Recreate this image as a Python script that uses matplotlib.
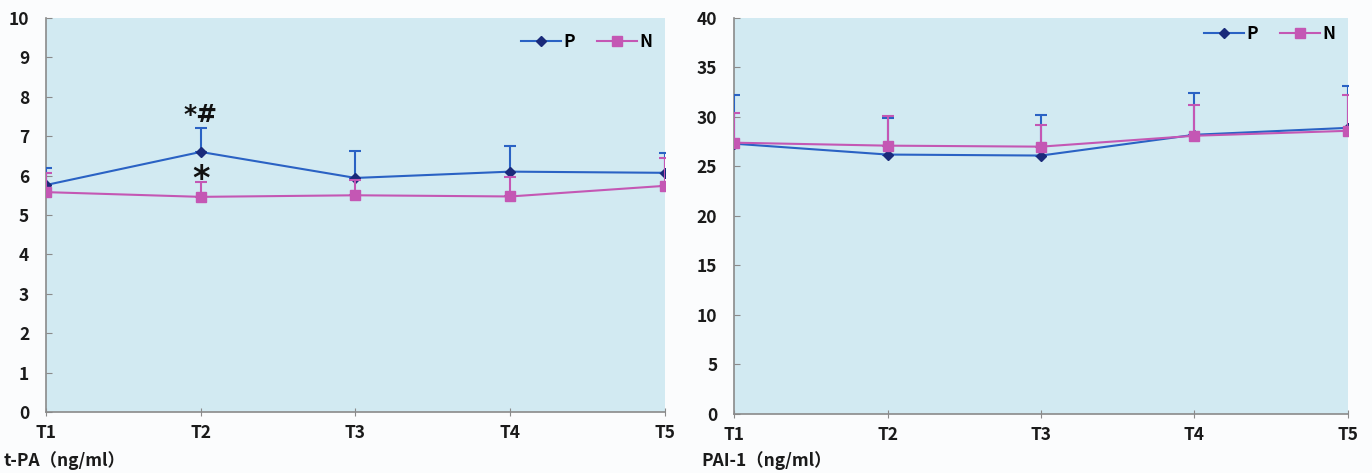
import matplotlib
matplotlib.use("Agg")
import matplotlib.pyplot as plt
from matplotlib.lines import Line2D
import numpy as np

plt.rcParams['font.family'] = ['Noto Sans CJK SC', 'DejaVu Sans']

categories = ["T1", "T2", "T3", "T4", "T5"]

# t-PA (ng/ml)
tpa_P = [5.76, 6.60, 5.94, 6.10, 6.07]
tpa_P_err = [0.44, 0.60, 0.69, 0.66, 0.51]
tpa_N = [5.58, 5.46, 5.50, 5.47, 5.74]
tpa_N_err = [0.48, 0.37, 0.40, 0.50, 0.70]

# PAI-1 (ng/ml)
pai_P = [27.3, 26.2, 26.1, 28.2, 28.9]
pai_P_err = [4.9, 3.7, 4.1, 4.2, 4.2]
pai_N = [27.4, 27.1, 27.0, 28.1, 28.6]
pai_N_err = [3.0, 3.0, 2.2, 3.1, 3.6]

left_ylabel = "t-PA（ng/ml）"
right_ylabel = "PAI-1（ng/ml）"
series_names = ["P", "N"]

BG = "#d2eaf2"
P_LINE = "#2a62c4"
P_MARK = "#1a2a7a"
N_COL = "#c457b4"
SPINE = "#8a8a8a"

fig = plt.figure(figsize=(13.72, 4.73), dpi=100, facecolor="#fbfcfd")
axL = fig.add_axes([0.0335, 0.129, 0.4512, 0.833])
axR = fig.add_axes([0.535, 0.125, 0.4475, 0.837])


def draw(ax, P, Perr, N, Nerr, ymax, ystep, xlabel, xlabel_x, legend_y):
    x = np.arange(len(categories))
    ax.set_facecolor(BG)
    ax.errorbar(x, P, yerr=[np.zeros(len(P)), Perr], color=P_LINE, lw=1.5,
                marker="D", ms=5, mfc=P_MARK, mec=P_MARK, ecolor=P_LINE,
                elinewidth=1.5, capsize=4, capthick=1.5, zorder=3)
    ax.errorbar(x, N, yerr=[np.zeros(len(N)), Nerr], color=N_COL, lw=1.5,
                marker="s", ms=7, mfc=N_COL, mec=N_COL, ecolor=N_COL,
                elinewidth=1.5, capsize=4, capthick=1.5, zorder=4)
    ax.set_xlim(0, len(categories) - 1)
    ax.set_ylim(0, ymax)
    ax.set_yticks(np.arange(0, ymax + ystep / 2, ystep))
    ax.set_xticks(x)
    ax.set_xticklabels(categories)
    for s in ["top", "right"]:
        ax.spines[s].set_visible(False)
    for s in ["left", "bottom"]:
        ax.spines[s].set_color(SPINE)
        ax.spines[s].set_linewidth(1.2)
    ax.tick_params(axis="y", direction="in", length=4, color=SPINE, labelsize=12.5, pad=12)
    ax.tick_params(axis="x", direction="inout", length=6, color=SPINE, labelsize=12.5, pad=6)
    for lab in ax.get_xticklabels() + ax.get_yticklabels():
        lab.set_fontweight("bold")
        lab.set_color("#1a1a1a")
    fig.text(xlabel_x, 0.026, xlabel, fontsize=12.5, fontweight="bold",
             ha="left", va="center", color="#1a1a1a")
    handles = [
        Line2D([], [], color=P_LINE, lw=1.5, marker="D", ms=5, mfc=P_MARK, mec=P_MARK),
        Line2D([], [], color=N_COL, lw=1.5, marker="s", ms=7, mfc=N_COL, mec=N_COL),
    ]
    leg = ax.legend(handles, series_names, loc="upper right", bbox_to_anchor=(1.0, legend_y),
                    ncol=2, frameon=False, fontsize=12.5, handlelength=2.3,
                    columnspacing=1.3, handletextpad=0.15, borderaxespad=0.3)
    for t in leg.get_texts():
        t.set_fontweight("bold")
    return x


xL = draw(axL, tpa_P, tpa_P_err, tpa_N, tpa_N_err, 10, 1, left_ylabel, 0.003, 0.992)
draw(axR, pai_P, pai_P_err, pai_N, pai_N_err, 40, 5, right_ylabel, 0.511, 1.012)

# significance marks at T2
axL.text(xL[1], tpa_P[1] + tpa_P_err[1] + 0.16, "*#", ha="center", va="baseline",
         fontsize=18, fontweight="bold", color="#111111", family="DejaVu Sans")
axL.text(xL[1], tpa_N[1] + tpa_N_err[1] - 0.18, "*", ha="center", va="baseline",
         fontsize=24, fontweight="bold", color="#111111", family="DejaVu Sans")

fig.savefig("out.png", dpi=100, facecolor=fig.get_facecolor())
